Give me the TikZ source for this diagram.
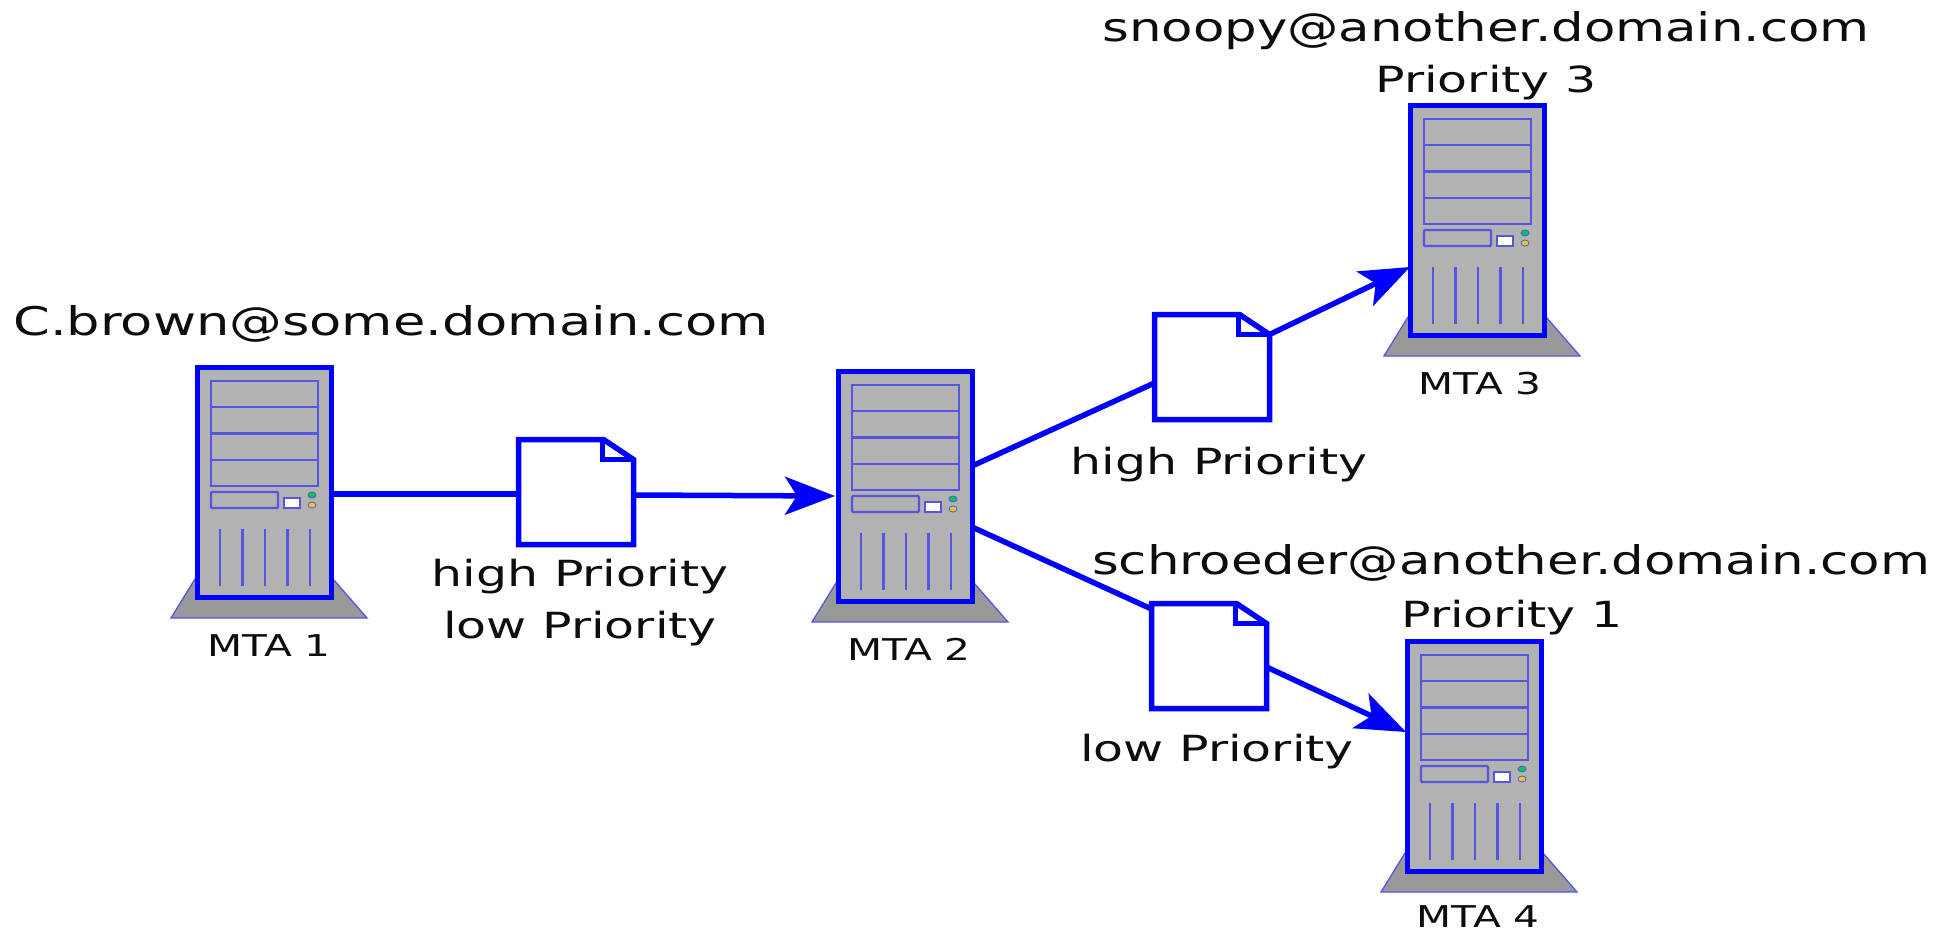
\documentclass[tikz,border=0pt]{standalone}
\usepackage{fontspec}
\setmainfont{DejaVu Sans}
\usetikzlibrary{arrows.meta,calc}
\definecolor{lnk}{RGB}{0,0,255}
\definecolor{thin}{RGB}{85,85,225}
\definecolor{bodyg}{RGB}{178,178,178}
\definecolor{baseg}{RGB}{153,153,153}
\definecolor{ledg}{RGB}{0,200,80}
\definecolor{ledy}{RGB}{225,205,30}
\tikzset{
  x=1pt,y=-1pt,
  emailtext/.style={inner sep=0pt,font=\fontsize{39.5}{44}\selectfont,xscale=1.30,text=black!95},
  widetext/.style={inner sep=0pt,font=\fontsize{39.5}{44}\selectfont,xscale=1.333,text=black!95},
  bigtext/.style={inner sep=0pt,font=\fontsize{36}{40}\selectfont,xscale=1.36,text=black!95},
  smalltext/.style={inner sep=0pt,font=\fontsize{30}{36}\selectfont,xscale=1.355,text=black!95},
  srvbox/.style={draw=lnk,line width=5pt,fill=bodyg,minimum width=134pt,minimum height=230pt,inner sep=0pt,outer sep=0pt,anchor=north west},
  srvline/.style={draw=thin,line width=2.2pt},
  docnode/.style={minimum width=115pt,minimum height=105pt,inner sep=0pt,outer sep=0pt},
  docline/.style={draw=lnk,line width=5.5pt,fill=white,line join=miter},
  link/.style={draw=lnk,line width=5.5pt},
  arrowlink/.style={link,-{Stealth[length=50pt,width=38pt,inset=12pt]}},
}
\newcommand{\server}[3]{%
  \begin{scope}[shift={(#2,#3)}]
    \path[fill=baseg,draw=thin,line width=1.3pt] (-2,212) -- (-26,251) -- (170,251) -- (136,212) -- cycle;
    \node[srvbox] (#1) at (0,0) {};
    \path[srvline] (14,14) rectangle (121,119);
    \path[srvline] (14,40) -- (121,40) (14,66.5) -- (121,66.5) (14,93) -- (121,93);
    \path[srvline,rounded corners=1pt] (14,125) rectangle (81,141);
    \path[draw=thin,line width=1.5pt,fill=white] (87,131) rectangle (103,141);
    \path[draw=thin,line width=0.8pt,fill=ledg] (115,128) ellipse (4 and 3);
    \path[draw=thin,line width=0.8pt,fill=ledy] (115,138) ellipse (4 and 3);
    \foreach \vx in {23,45.5,68,90.5,113} \path[srvline] (\vx,162) -- (\vx,219);
  \end{scope}}
\newcommand{\docicon}[3]{%
  \node[docnode] (#1) at (#2,#3) {};
  \path[docline] (#1.north west) -- ([xshift=-30pt]#1.north east) -- ([yshift=-20pt]#1.north east) -- (#1.south east) -- (#1.south west) -- cycle;
  \path[draw=lnk,line width=4.5pt] ([xshift=-31pt]#1.north east) -- ([xshift=-31pt,yshift=-20pt]#1.north east) -- ([yshift=-20pt]#1.north east);
}
\begin{document}
\begin{tikzpicture}
\useasboundingbox (0,0) rectangle (1949,932);
\path[fill=white] (0,0) rectangle (1949,932);
\server{m1}{197}{367}
\server{m2}{838}{371}
\server{m3}{1410}{105}
\server{m4}{1407}{641}
\docicon{d1}{576}{492}
\docicon{d2}{1212}{367}
\docicon{d3}{1209}{656}
\path[link] ([yshift=-12pt]m1.east) -- ([yshift=-2pt]d1.west);
\path[arrowlink] ([yshift=-3pt]d1.east) -- ([xshift=-3pt,yshift=-10pt]m2.west);
\path[link] ([yshift=20pt]m2.east) -- ([yshift=-16pt]d2.west);
\path[arrowlink] ([yshift=-20pt]d2.north east) -- ([yshift=-162pt]m3.north west);
\path[link] ([yshift=-41pt]m2.east) -- ([yshift=47pt]d3.west);
\path[arrowlink] ([yshift=-11pt]d3.east) -- ([xshift=-1pt,yshift=24pt]m4.west);
\node[widetext] (t1) at (391,324) {C.brown@some.domain.com};
\node[emailtext] (t2) at (1486,31) {snoopy@another.domain.com};
\node[bigtext] (t3) at (1486,83) {Priority 3};
\node[emailtext] (t4) at (1511,563) {schroeder@another.domain.com};
\node[bigtext] (t5) at (1512,618) {Priority 1};
\node[bigtext] (t6) at (580,577) {high Priority};
\node[bigtext] (t7) at (580,629) {low Priority};
\node[bigtext] (t8) at (1219,465) {high Priority};
\node[bigtext] (t9) at (1217,752) {low Priority};
\node[smalltext] (l1) at (269,646) {MTA 1};
\node[smalltext] (l2) at (909,649) {MTA 2};
\node[smalltext] (l3) at (1480,384) {MTA 3};
\node[smalltext] (l4) at (1478,917) {MTA 4};
\end{tikzpicture}
\end{document}
